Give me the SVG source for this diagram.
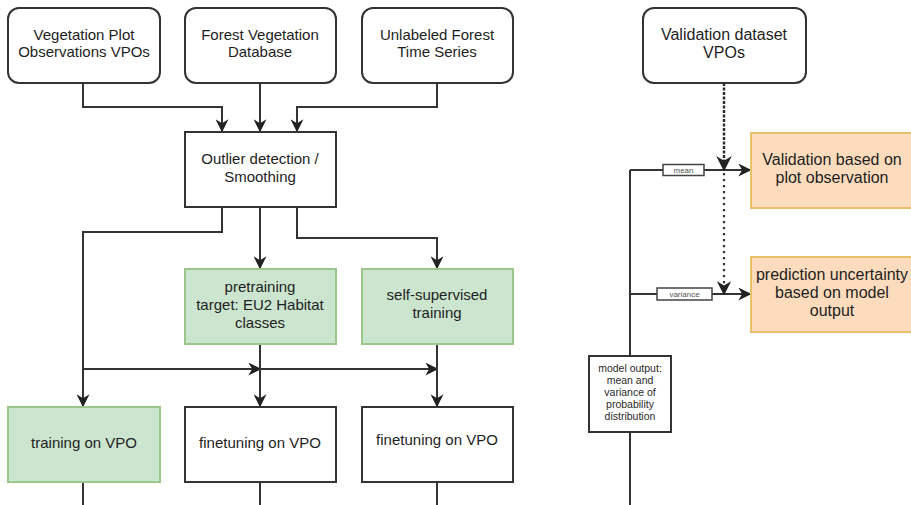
<svg xmlns="http://www.w3.org/2000/svg" width="911" height="505" viewBox="0 0 911 505">
  <style>
    .box { fill: #ffffff; stroke: #333333; stroke-width: 2; }
    .green { fill: #cce5cf; stroke: #9cc68c; stroke-width: 2; }
    .orange { fill: #fcdcbd; stroke: #e6c168; stroke-width: 2; }
    .t { font-family: "Liberation Sans", Arial, sans-serif; font-size: 15px; fill: #1e1e1e; text-anchor: middle; }
    .tr { font-family: "Liberation Sans", Arial, sans-serif; font-size: 16px; fill: #1e1e1e; text-anchor: middle; }
    .ts { font-family: "Liberation Sans", Arial, sans-serif; font-size: 10.5px; fill: #2a2a2a; text-anchor: middle; }
    .tl { font-family: "Liberation Sans", Arial, sans-serif; font-size: 8px; fill: #555555; text-anchor: middle; }
    .edge { fill: none; stroke: #333333; stroke-width: 2; }
    .arrow { fill: none; stroke: #333333; stroke-width: 2; marker-end: url(#head); }
    .dash { fill: none; stroke: #2a2a2a; stroke-width: 2.4; stroke-dasharray: 3 1.5; marker-end: url(#head); }
    .dot { fill: none; stroke: #333333; stroke-width: 2.2; stroke-dasharray: 2.2 3.8; marker-end: url(#head); }
    .lbl { fill: #ffffff; stroke: #444444; stroke-width: 1.5; }
  </style>
  <defs>
    <marker id="head" viewBox="0 0 10 10" refX="9" refY="5" markerWidth="6.5" markerHeight="6.5" markerUnits="strokeWidth" orient="auto">
      <path d="M0,0 L10,5 L0,10 L3,5 Z" fill="#222222"/>
    </marker>
  </defs>

  <rect width="911" height="505" fill="#ffffff"/>

  <!-- connectors -->
  <g id="connectors">
    <path class="arrow" d="M83,83 V107 H222 V131"/>
    <path class="arrow" d="M260,83 V131"/>
    <path class="arrow" d="M437,83 V107 H297 V131"/>
    <path class="arrow" d="M222,207 V232 H83 V406"/>
    <path class="arrow" d="M260,207 V268"/>
    <path class="arrow" d="M297,207 V238 H437 V268"/>
    <path class="arrow" d="M83,369 H260"/>
    <path class="arrow" d="M260,369 H437"/>
    <path class="arrow" d="M260,344 V406"/>
    <path class="arrow" d="M437,344 V406"/>
    <path class="edge" d="M83,482 V505"/>
    <path class="edge" d="M260,482 V505"/>
    <path class="edge" d="M437,482 V505"/>
    <path class="edge" d="M630,505 V170"/>
    <path class="arrow" d="M630,170 H750"/>
    <path class="arrow" d="M630,294 H750"/>
    <path class="dash" d="M724,83 V170"/>
    <path class="dot" d="M724,173 V294"/>
    <rect class="lbl" x="663" y="164.5" width="41" height="11"/>
    <text class="tl" x="683.5" y="172.8">mean</text>
    <rect class="lbl" x="657" y="288" width="55" height="12"/>
    <text class="tl" x="684.5" y="296.8">variance</text>
  </g>

  <g id="vpo">
    <rect class="box" x="8" y="8" width="152" height="75" rx="11"/>
    <text class="t" x="84" y="40">Vegetation Plot</text>
    <text class="t" x="84" y="57">Observations VPOs</text>
  </g>
  <g id="forest-db">
    <rect class="box" x="185" y="8" width="151" height="75" rx="11"/>
    <text class="t" x="260" y="40">Forest Vegetation</text>
    <text class="t" x="260" y="57">Database</text>
  </g>
  <g id="unlabeled">
    <rect class="box" x="362" y="8" width="151" height="75" rx="11"/>
    <text class="t" x="437" y="40">Unlabeled Forest</text>
    <text class="t" x="437" y="57">Time Series</text>
  </g>
  <g id="outlier">
    <rect class="box" x="185" y="132" width="151" height="75"/>
    <text class="t" x="260" y="164">Outlier detection /</text>
    <text class="t" x="260" y="182">Smoothing</text>
  </g>
  <g id="pretraining">
    <rect class="green" x="185" y="269" width="151" height="75"/>
    <text class="t" x="260" y="292">pretraining</text>
    <text class="t" x="260" y="310">target: EU2 Habitat</text>
    <text class="t" x="260" y="328">classes</text>
  </g>
  <g id="self-supervised">
    <rect class="green" x="362" y="269" width="151" height="75"/>
    <text class="t" x="437" y="300">self-supervised</text>
    <text class="t" x="437" y="318">training</text>
  </g>
  <g id="training">
    <rect class="green" x="8" y="407" width="152" height="75"/>
    <text class="t" x="84" y="448">training on VPO</text>
  </g>
  <g id="finetune-1">
    <rect class="box" x="185" y="407" width="151" height="75"/>
    <text class="t" x="260" y="448">finetuning on VPO</text>
  </g>
  <g id="finetune-2">
    <rect class="box" x="362" y="407" width="151" height="75"/>
    <text class="t" x="437" y="445">finetuning on VPO</text>
  </g>
  <g id="validation-vpo">
    <rect class="box" x="643" y="8" width="163" height="75" rx="11"/>
    <text class="tr" x="724" y="40">Validation dataset</text>
    <text class="tr" x="724" y="58">VPOs</text>
  </g>
  <g id="validation-plot">
    <rect class="orange" x="751" y="133" width="164" height="75"/>
    <text class="tr" x="832" y="165">Validation based on</text>
    <text class="tr" x="832" y="183">plot observation</text>
  </g>
  <g id="uncertainty">
    <rect class="orange" x="751" y="257" width="164" height="75"/>
    <text class="tr" x="832" y="280">prediction uncertainty</text>
    <text class="tr" x="832" y="298">based on model</text>
    <text class="tr" x="832" y="316">output</text>
  </g>
  <g id="model-output">
    <rect class="box" x="589" y="356" width="82" height="76"/>
    <text class="ts" x="630" y="372">model output:</text>
    <text class="ts" x="630" y="384">mean and</text>
    <text class="ts" x="630" y="396">variance of</text>
    <text class="ts" x="630" y="408">probability</text>
    <text class="ts" x="630" y="420">distribution</text>
  </g>
</svg>
